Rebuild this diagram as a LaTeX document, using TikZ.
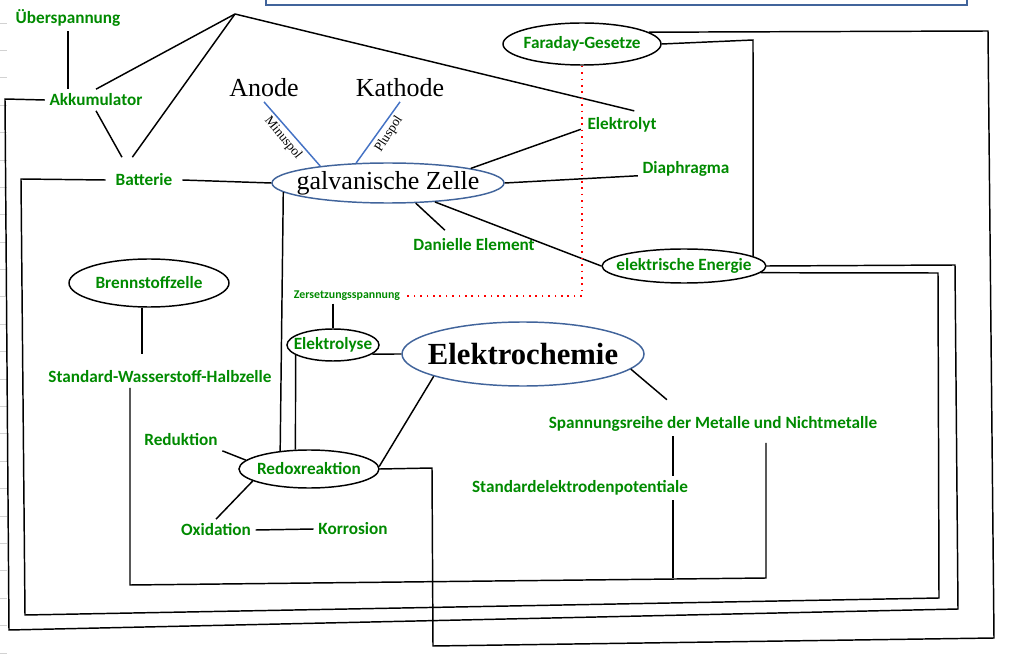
\documentclass[tikz,border=0pt]{standalone}
\usepackage{fontspec}
\setmainfont{Carlito}
\newfontfamily\serifschrift{Liberation Serif}
\usetikzlibrary{shapes.geometric}

\definecolor{gruen}{RGB}{0,138,0}
\definecolor{polblau}{RGB}{68,114,196}
\definecolor{ovalblau}{RGB}{65,100,155}

\newcommand{\mitte}[1]{\makebox[0pt]{#1}}

\tikzset{every picture/.style={line width=1.1pt}}
\tikzset{
	begriff/.style={text=gruen, font=\bfseries\fontsize{12.9}{15}\selectfont, inner sep=3pt},
	klein/.style={begriff, font=\bfseries\fontsize{8.9}{10}\selectfont, inner sep=1.5pt},
	oval/.style={ellipse, draw, inner sep=0pt},
	blauoval/.style={oval, draw=ovalblau},
	gross/.style={font=\serifschrift\fontsize{19.5}{22}\selectfont, inner sep=3pt},
	pol/.style={font=\serifschrift\fontsize{10}{12}\selectfont, inner sep=1pt},
	polstrich/.style={draw=polblau},
	punktlinie/.style={draw=red, dash pattern=on 1.2pt off 3.6pt},
}

\begin{document}
\begin{tikzpicture}[x=0.75pt,y=0.75pt,yscale=-1,xscale=1]
		\path [use as bounding box] (0,0) rectangle (1022,663);

		%Grid stubs at the left border
		\foreach \k in {0,...,23} \draw [gray!35, line width=0.6pt] (0,23+27.39*\k) -- (7,23+27.39*\k);
		%Shape: Rectangle (cut off at the top)
		\draw [ovalblau, line width=1.4pt] (266,-10) rectangle (967,5);

		\coordinate (spitze) at (235,14);

		% Ellipses
		\node [blauoval, minimum width=174pt, minimum height=30pt, font=\serifschrift\fontsize{19.5}{22}\selectfont] (galv) at (388,183) {\mitte{galvanische Zelle}};
		\node [blauoval, minimum width=181.5pt, minimum height=48pt, font=\serifschrift\bfseries\fontsize{23}{26}\selectfont] (echem) at (523,354) {\mitte{Elektrochemie}};
		\node [begriff, oval, minimum width=118.5pt, minimum height=31.5pt] (faraday) at (582,44) {\mitte{Faraday-Gesetze}};
		\node [begriff, oval, minimum width=123pt, minimum height=25.5pt] (eenergie) at (684,266) {\mitte{elektrische Energie}};
		\node [begriff, oval, minimum width=120pt, minimum height=36pt] (brenn) at (149,283) {\mitte{Brennstoffzelle}};
		\node [begriff, oval, minimum width=69pt, minimum height=24pt] (elyse) at (333,345) {\mitte{Elektrolyse}};
		\node [begriff, oval, minimum width=105pt, minimum height=28.5pt] (redox) at (309,469) {\mitte{Redoxreaktion}};

		% Text Nodes
		\node [begriff] (ueber) at (68,18) {Überspannung};
		\node [begriff] (akku) at (96,100) {Akkumulator};
		\node [begriff, inner xsep=7pt, inner ysep=12pt] (batt) at (144,180) {Batterie};
		\node [gross] (anode) at (264,88) {Anode};
		\node [gross] (kathode) at (400,88) {Kathode};
		\node [pol, rotate=-51] (minus) at (283,138) {Minuspol};
		\node [pol, rotate=57] (plus) at (389,134) {Pluspol};
		\node [begriff, inner sep=4.5pt] (elektrolyt) at (622,125) {Elektrolyt};
		\node [begriff] (diaphragma) at (686,169) {Diaphragma};
		\node [begriff, inner ysep=6pt] (daniell) at (474,245) {Danielle Element};
		\node [klein] (zers) at (347,296) {Zersetzungsspannung};
		\node [begriff] (swh) at (160,377) {Standard-Wasserstoff-Halbzelle};
		\node [begriff] (spann) at (713,424) {Spannungsreihe der Metalle und Nichtmetalle};
		\node [begriff] (sepot) at (580,488) {Standardelektrodenpotentiale};
		\node [begriff] (redukt) at (181,440) {Reduktion};
		\node [begriff] (oxid) at (216,530) {Oxidation};
		\node [begriff] (korr) at (353,529) {Korrosion};

		\coordinate (potx) at (673,0);
		\coordinate (swhL) at (130,585);
		\coordinate (swhR) at (766,578);

		%Straight Lines
		\draw (ueber.south) -- (ueber.south |- akku.north);
		\draw (spitze) -- (akku.north);
		\draw (spitze) -- (batt.117);
		\draw (spitze) -- (elektrolyt.49);
		\draw (akku.south) -- (batt.134);
		\draw (batt.east) -- (galv.west);
		\draw [polstrich] (anode.south) -- (galv.166);
		\draw [polstrich] (kathode.south) -- (galv.148);
		\draw (galv.10) -- (elektrolyt.186);
		\draw (galv.east) -- (diaphragma.188);
		\draw (galv.-36) -- (daniell.153);
		\draw (galv.-22) -- (eenergie.west);
		\draw (galv.185) -- (redox.148);
		\draw (zers.south -| elyse.north) -- (elyse.north);
		\draw (elyse.-13) -- (echem.west);
		\draw (elyse.195) -- (redox.125);
		\draw (redox.2) -- (echem.194);
		\draw [shorten >=14pt] (echem.-8) -- (spann.159);
		\draw (spann.south -| potx) -- (sepot.north -| potx);
		\draw (sepot.south -| potx) -- (potx |- swhR);
		\draw [shorten >=9pt] (brenn.254) -- (brenn.254 |- swh.north);
		\draw (redukt.south east) -- (redox.172);
		\draw (oxid.north) -- (redox.192);
		\draw (oxid.east) -- (korr.west);
		\draw [punktlinie] (faraday.south) -- (faraday.south |- zers.east) -- (zers.east);

		%Long frame lines
		\draw [shorten >=5pt] (swh.south -| swhL) -- (swhL) -- (swhR) -- (swhR |- spann.south);
		\draw (batt.west) -- (21,179) -- (25,615) -- (939,598) -- (938,273) -- (eenergie.-5);
		\draw (akku.west) -- (5,99) -- (9,630) -- (958,609) -- (955,265) -- (eenergie.east);
		\draw (faraday.east) -- (753,40) -- (eenergie.8);
		\draw (faraday.10) -- (988,31) -- (994,638) -- (433,646) -- (432,468) -- (redox.east);

	\end{tikzpicture}
\end{document}
